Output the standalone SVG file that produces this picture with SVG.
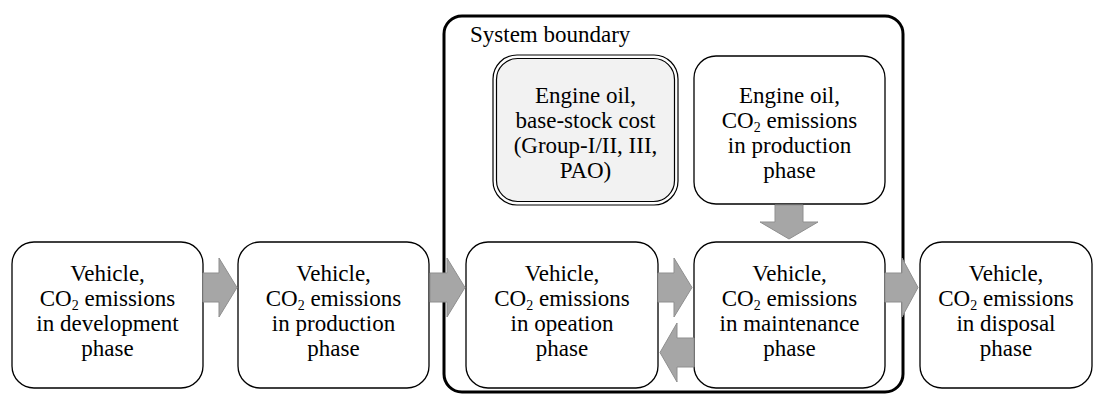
<svg xmlns="http://www.w3.org/2000/svg" width="1104" height="394" viewBox="0 0 1104 394">
<style>
.box{fill:#fff;stroke:#000;stroke-width:1.3}
.t{font-family:"Liberation Serif","Times New Roman",serif;font-size:23px;fill:#000;text-anchor:middle}
.sub{font-size:14px}
.arr{fill:#a6a6a6;stroke:#8f8f8f;stroke-width:1}
</style>
<rect width="1104" height="394" fill="#fff"/>
<g id="boundary">
<rect x="444" y="16" width="459" height="376" rx="18" fill="none" stroke="#000" stroke-width="3"/>
<text class="t" x="470" y="42" style="text-anchor:start">System boundary</text>
</g>
<g id="oil-cost">
<rect x="493" y="55" width="185" height="150" rx="24" fill="#fff" stroke="#000" stroke-width="1.2"/>
<rect x="496.5" y="58.5" width="178" height="143" rx="21" fill="#f2f2f2" stroke="#000" stroke-width="1.2"/>
<text class="t" x="585.5" y="103">Engine oil,</text>
<text class="t" x="585.5" y="128">base-stock cost</text>
<text class="t" x="585.5" y="153">(Group-I/II, III,</text>
<text class="t" x="585.5" y="178">PAO)</text>
</g>
<g id="oil-production">
<rect class="box" x="694" y="56" width="191" height="148" rx="22"/>
<text class="t" x="789.5" y="103">Engine oil,</text>
<text class="t" x="789.5" y="128">CO<tspan class="sub" dy="4">2</tspan><tspan dy="-4"> emissions</tspan></text>
<text class="t" x="789.5" y="153">in production</text>
<text class="t" x="789.5" y="178">phase</text>
</g>
<g id="development">
<rect class="box" x="12" y="242" width="191" height="146" rx="22"/>
<text class="t" x="107.5" y="281">Vehicle,</text>
<text class="t" x="107.5" y="306">CO<tspan class="sub" dy="4">2</tspan><tspan dy="-4"> emissions</tspan></text>
<text class="t" x="107.5" y="331">in development</text>
<text class="t" x="107.5" y="356">phase</text>
</g>
<g id="production">
<rect class="box" x="238" y="242" width="191" height="146" rx="22"/>
<text class="t" x="333.5" y="281">Vehicle,</text>
<text class="t" x="333.5" y="306">CO<tspan class="sub" dy="4">2</tspan><tspan dy="-4"> emissions</tspan></text>
<text class="t" x="333.5" y="331">in production</text>
<text class="t" x="333.5" y="356">phase</text>
</g>
<g id="operation">
<rect class="box" x="466" y="242" width="192" height="146" rx="22"/>
<text class="t" x="562" y="281">Vehicle,</text>
<text class="t" x="562" y="306">CO<tspan class="sub" dy="4">2</tspan><tspan dy="-4"> emissions</tspan></text>
<text class="t" x="562" y="331">in opeation</text>
<text class="t" x="562" y="356">phase</text>
</g>
<g id="maintenance">
<rect class="box" x="694" y="242" width="191" height="146" rx="22"/>
<text class="t" x="789.5" y="281">Vehicle,</text>
<text class="t" x="789.5" y="306">CO<tspan class="sub" dy="4">2</tspan><tspan dy="-4"> emissions</tspan></text>
<text class="t" x="789.5" y="331">in maintenance</text>
<text class="t" x="789.5" y="356">phase</text>
</g>
<g id="disposal">
<rect class="box" x="920" y="242" width="172" height="146" rx="22"/>
<text class="t" x="1006" y="281">Vehicle,</text>
<text class="t" x="1006" y="306">CO<tspan class="sub" dy="4">2</tspan><tspan dy="-4"> emissions</tspan></text>
<text class="t" x="1006" y="331">in disposal</text>
<text class="t" x="1006" y="356">phase</text>
</g>
<g id="connectors">
<polygon class="arr" points="203,273 219,273 219,258 237,287.5 219,317 219,302 203,302"/>
<polygon class="arr" points="430,273 447,273 447,258 465,287.5 447,317 447,302 430,302"/>
<polygon class="arr" points="658,273 674,273 674,258 692,287.5 674,317 674,302 658,302"/>
<polygon class="arr" points="694,338 677,338 677,323 660,352.5 677,382 677,367 694,367"/>
<polygon class="arr" points="885,273 902,273 902,258 918,287.5 902,317 902,302 885,302"/>
<polygon class="arr" points="775,205 803,205 803,222 818,222 789,239 760,222 775,222"/>
</g>
</svg>
